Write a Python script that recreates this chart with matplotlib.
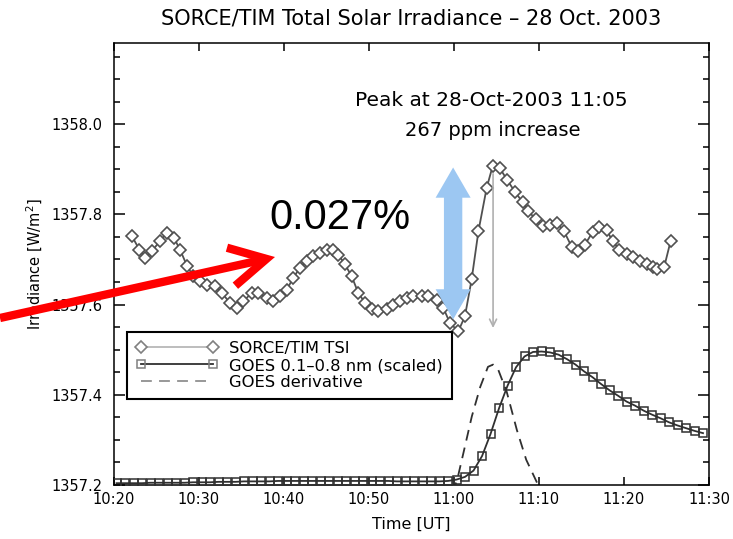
import numpy as np
import matplotlib
matplotlib.use("Agg")
import matplotlib.pyplot as plt
from matplotlib.patches import Polygon, FancyArrowPatch
from matplotlib.ticker import FixedLocator, MultipleLocator, FormatStrFormatter

# time axis is minutes after 10:00 UT
tsi_t = [22.08, 22.98, 23.65, 24.44, 25.41, 26.20, 27.06, 27.76, 28.62, 29.33,
         30.12, 30.91, 31.88, 32.67, 33.65, 34.44, 35.21, 36.20, 36.98, 37.96,
         38.74, 39.53, 40.32, 41.09, 41.88, 42.67, 43.45, 44.24, 45.02, 45.80,
         46.39, 47.18, 47.96, 48.74, 49.53, 50.32, 51.09, 52.08, 52.86, 53.65,
         54.44, 55.21, 56.20, 56.98, 57.96, 58.74, 59.53, 60.51, 61.29, 62.08,
         62.88, 63.85, 64.55, 65.41, 66.27, 67.18, 68.08, 68.74, 69.65, 70.44,
         71.29, 72.15, 72.94, 73.85, 74.62, 75.41, 76.32, 77.09, 77.96, 78.67,
         79.45, 80.32, 81.09, 81.88, 82.67, 83.45, 83.92, 84.74, 85.49]
tsi_v = [1357.753, 1357.722, 1357.704, 1357.718, 1357.741, 1357.759, 1357.748, 1357.722, 1357.685, 1357.663,
         1357.652, 1357.644, 1357.641, 1357.626, 1357.604, 1357.593, 1357.607, 1357.626, 1357.626, 1357.615,
         1357.607, 1357.618, 1357.633, 1357.659, 1357.682, 1357.696, 1357.707, 1357.715, 1357.722, 1357.722,
         1357.711, 1357.689, 1357.663, 1357.626, 1357.604, 1357.590, 1357.585, 1357.590, 1357.600, 1357.607,
         1357.615, 1357.618, 1357.618, 1357.618, 1357.611, 1357.593, 1357.559, 1357.541, 1357.574, 1357.656,
         1357.763, 1357.859, 1357.907, 1357.902, 1357.876, 1357.850, 1357.827, 1357.807, 1357.789, 1357.774,
         1357.776, 1357.780, 1357.763, 1357.728, 1357.718, 1357.733, 1357.761, 1357.773, 1357.765, 1357.741,
         1357.722, 1357.713, 1357.706, 1357.696, 1357.689, 1357.684, 1357.679, 1357.684, 1357.741]

goes_t = np.arange(20.3, 90.0, 1.0)
goes_v = [1357.204, 1357.204, 1357.204, 1357.204, 1357.205, 1357.205, 1357.205, 1357.205, 1357.205, 1357.206,
          1357.206, 1357.206, 1357.207, 1357.207, 1357.207, 1357.208, 1357.208, 1357.208, 1357.208, 1357.209,
          1357.209, 1357.209, 1357.209, 1357.209, 1357.209, 1357.209, 1357.209, 1357.209, 1357.209, 1357.209,
          1357.209, 1357.209, 1357.209, 1357.208, 1357.208, 1357.208, 1357.208, 1357.208, 1357.208, 1357.209,
          1357.212, 1357.218, 1357.232, 1357.264, 1357.313, 1357.370, 1357.420, 1357.461, 1357.485, 1357.495,
          1357.496, 1357.494, 1357.489, 1357.479, 1357.467, 1357.452, 1357.439, 1357.424, 1357.410, 1357.398,
          1357.385, 1357.376, 1357.365, 1357.356, 1357.348, 1357.339, 1357.332, 1357.326, 1357.320, 1357.315]

deriv_t = [59.3, 60.3, 61.1, 62.1, 63.1, 64.0, 64.6, 65.2, 66.2, 67.4, 68.5, 69.9, 70.5]
deriv_v = [1357.190, 1357.205, 1357.270, 1357.352, 1357.418, 1357.462, 1357.467, 1357.456,
           1357.407, 1357.322, 1357.256, 1357.200, 1357.185]

tick_pos = [20, 30, 40, 50, 60, 70, 80, 90]
tick_lab = ["10:20", "10:30", "10:40", "10:50", "11:00", "11:10", "11:20", "11:30"]

peak_t = 64.6          # 11:05
arrow_top, arrow_bot = 1357.904, 1357.567
arrow_t = 59.9

plt.rcParams["font.family"] = "DejaVu Sans"
fig = plt.figure(figsize=(7.33, 5.39), dpi=100)
ax = fig.add_axes([0.1555, 0.1002, 0.8117, 0.8200])

ax.plot(tsi_t, tsi_v, "-", color="#505050", lw=1.3, marker="D", ms=6,
        mfc="white", mec="#505050", mew=1.2, label="SORCE/TIM TSI", zorder=4)
ax.plot(goes_t, goes_v, "-", color="#303030", lw=1.3, marker="s", ms=6,
        mfc="none", mec="#303030", mew=1.1, label="GOES 0.1\u20130.8 nm (scaled)", zorder=3)
ax.plot(deriv_t, deriv_v, "--", color="#303030", lw=1.3, dashes=(6, 4),
        label="GOES derivative", zorder=2)

ax.set_xlim(20, 90)
ax.set_ylim(1357.2, 1358.18)
ax.xaxis.set_major_locator(FixedLocator(tick_pos))
ax.set_xticklabels(tick_lab)
ax.yaxis.set_major_locator(MultipleLocator(0.2))
ax.yaxis.set_minor_locator(MultipleLocator(0.05))
ax.yaxis.set_major_formatter(FormatStrFormatter("%.1f"))
ax.tick_params(axis="both", which="both", direction="in", top=True, right=True,
               labelsize=10.5, width=1.1, color="black")
ax.tick_params(axis="x", which="major", length=6, pad=5)
ax.tick_params(axis="y", which="major", length=8, pad=8)
ax.tick_params(axis="y", which="minor", length=4)
for sp in ax.spines.values():
    sp.set_linewidth(1.1)

ax.set_xlabel("Time [UT]", fontsize=11.5, labelpad=7)
ax.set_ylabel("Irradiance [W/m$^2$]", fontsize=10.5, labelpad=5)
fig.text(0.561, 1 - 18 / 539, "SORCE/TIM Total Solar Irradiance \u2013 28 Oct. 2003",
         ha="center", va="center", fontsize=15)

ax.text(0.634, 0.869, "Peak at 28-Oct-2003 11:05", transform=ax.transAxes,
        ha="center", va="center", fontsize=14.5)
ax.text(0.636, 0.801, "267 ppm increase", transform=ax.transAxes,
        ha="center", va="center", fontsize=14)

# gray arrow from the peak down to the pre-flare minimum
ax.annotate("", xy=(peak_t, 1357.542), xytext=(peak_t, 1357.896),
            arrowprops=dict(arrowstyle="->,head_length=0.5,head_width=0.25",
                            color="#b0b0b0", lw=1.2), zorder=5)

leg = ax.legend(loc="lower left", bbox_to_anchor=(0.0213, 0.1946), borderaxespad=0,
                fontsize=11.8, handlelength=5.0, handletextpad=0.7, labelspacing=0.12,
                borderpad=0.55, numpoints=2, fancybox=False, framealpha=1,
                edgecolor="black")
leg.get_frame().set_linewidth(1.5)
hl = leg.get_lines()
hl[0].set_color("#b8b8b8"); hl[0].set_markeredgecolor("#808080")
hl[1].set_markeredgecolor("#808080")
hl[2].set_color("#909090")
leg.set_zorder(6)

# light blue double-headed block arrow spanning the rise
hw, sw, hlen = 2.06, 1.08, 0.067
c = arrow_t
pts = [(c, arrow_top), (c + hw, arrow_top - hlen), (c + sw, arrow_top - hlen),
       (c + sw, arrow_bot + hlen), (c + hw, arrow_bot + hlen), (c, arrow_bot),
       (c - hw, arrow_bot + hlen), (c - sw, arrow_bot + hlen), (c - sw, arrow_top - hlen),
       (c - hw, arrow_top - hlen)]
ax.add_patch(Polygon(pts, closed=True, facecolor="#9cc7f2", edgecolor="none", zorder=7))

ax.text(0.380, 0.604, "0.027%", transform=ax.transAxes, ha="center", va="center",
        fontsize=30, family="Liberation Sans", zorder=8)

red = FancyArrowPatch((0.0, 1 - 318 / 539), (275 / 733, 1 - 257 / 539),
                      transform=fig.transFigure, arrowstyle="->,head_length=1.3,head_width=0.7",
                      mutation_scale=20, color="#ff0000", lw=6, zorder=10,
                      shrinkA=0, shrinkB=0, capstyle="butt", joinstyle="miter")
fig.add_artist(red)

fig.savefig("out.png", dpi=100)
